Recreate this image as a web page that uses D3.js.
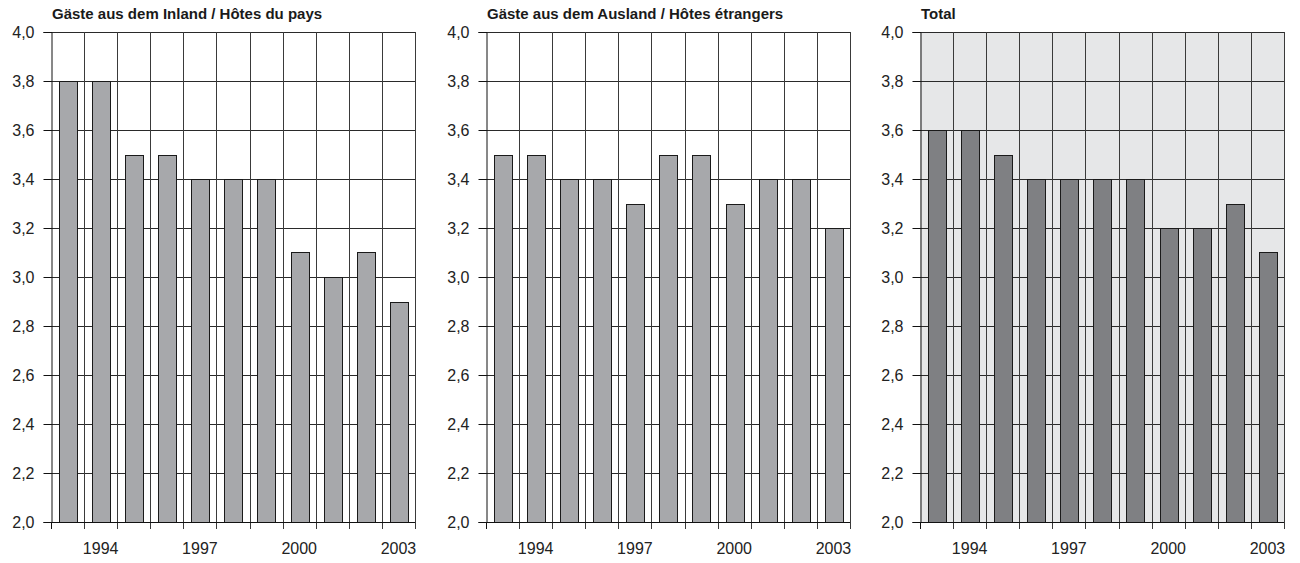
<!DOCTYPE html>
<html>
<head>
<meta charset="utf-8">
<script src="https://cdn.jsdelivr.net/npm/d3@7"></script>
<style>
  body { margin: 0; background: #fff; }
  svg { font-family: "Liberation Sans", Arial, sans-serif; }
</style>
</head>
<body>
<svg id="chart" width="1300" height="563"></svg>
<script>
// data
var years = ["1993", "1994", "1995", "1996", "1997", "1998", "1999", "2000", "2001", "2002", "2003"];
var yearLabels = ["1994", "1997", "2000", "2003"];
var yTicks = [2.0, 2.2, 2.4, 2.6, 2.8, 3.0, 3.2, 3.4, 3.6, 3.8, 4.0];
var inland = [3.8, 3.8, 3.5, 3.5, 3.4, 3.4, 3.4, 3.1, 3.0, 3.1, 2.9];
var ausland = [3.5, 3.5, 3.4, 3.4, 3.3, 3.5, 3.5, 3.3, 3.4, 3.4, 3.2];
var total = [3.6, 3.6, 3.5, 3.4, 3.4, 3.4, 3.4, 3.2, 3.2, 3.3, 3.1];
var titles = ["Gäste aus dem Inland / Hôtes du pays", "Gäste aus dem Ausland / Hôtes étrangers", "Total"];

var svg = d3.select("#chart");
var plotW = 364, plotH = 490, plotTop = 32;
var fmt = function(d) { return d3.format(".1f")(d).replace(".", ","); };

function panel(left, title, values, bg, barFill) {
  var g = svg.append("g").attr("transform", "translate(" + left + "," + plotTop + ")");

  var x = d3.scaleBand().domain(years).range([0, plotW]).padding(0);
  var y = d3.scaleLinear().domain([2, 4]).range([plotH, 0]);
  var bw = x.bandwidth();

  g.append("rect")
    .attr("width", plotW).attr("height", plotH)
    .attr("fill", bg);

  // horizontal grid
  g.append("g").selectAll("line")
    .data(yTicks)
    .enter().append("line")
      .attr("x1", 0).attr("x2", plotW)
      .attr("y1", function(d) { return Math.round(y(d)) + 0.5; })
      .attr("y2", function(d) { return Math.round(y(d)) + 0.5; })
      .attr("stroke", "#2a2a2a").attr("stroke-width", 1);

  // vertical grid at band edges
  g.append("g").selectAll("line")
    .data(years.slice(1).concat(["end"]))
    .enter().append("line")
      .attr("x1", function(d, i) { return Math.round(bw * (i + 1)) + 0.5; })
      .attr("x2", function(d, i) { return Math.round(bw * (i + 1)) + 0.5; })
      .attr("y1", 0).attr("y2", plotH + 7)
      .attr("stroke", "#3a3a3a").attr("stroke-width", 1);

  // bars
  g.append("g").selectAll("rect")
    .data(values)
    .enter().append("rect")
      .attr("x", function(d, i) { return Math.round(x(years[i]) + bw * 0.24) + 0.5; })
      .attr("y", function(d) { return Math.round(y(d)) + 0.5; })
      .attr("width", Math.round(bw * 0.54))
      .attr("height", function(d) { return Math.round(y(2)) - Math.round(y(d)); })
      .attr("fill", barFill)
      .attr("stroke", "#1a1a1a").attr("stroke-width", 1);

  // left axis
  var ya = g.append("g")
    .attr("transform", "translate(0.5,0)")
    .call(d3.axisLeft(y).tickValues(yTicks).tickFormat(fmt).tickSize(8).tickPadding(9));
  ya.select(".domain").attr("stroke", "#111");
  ya.selectAll(".tick line").attr("stroke", "#111");
  ya.selectAll(".tick text").attr("font-size", "16px").attr("fill", "#222")
    .attr("font-family", "Liberation Sans, Arial, sans-serif");

  // bottom line and first tick
  g.append("line")
    .attr("x1", 0).attr("x2", plotW)
    .attr("y1", plotH + 0.5).attr("y2", plotH + 0.5)
    .attr("stroke", "#111");
  g.append("line")
    .attr("x1", 0.5).attr("x2", 0.5)
    .attr("y1", plotH).attr("y2", plotH + 7)
    .attr("stroke", "#111");

  // year labels
  g.append("g").selectAll("text")
    .data(yearLabels)
    .enter().append("text")
      .attr("x", function(d) { return x(d) + bw / 2; })
      .attr("y", plotH + 32)
      .attr("text-anchor", "middle")
      .attr("font-size", "16px")
      .attr("fill", "#222")
      .text(function(d) { return d; });

  g.append("text")
    .attr("x", 1).attr("y", -13)
    .attr("font-size", "15px")
    .attr("font-weight", "bold")
    .attr("fill", "#1a1a1a")
    .text(title);
}

panel(51, titles[0], inland, "#ffffff", "#a7a8ab");
panel(486, titles[1], ausland, "#ffffff", "#a7a8ab");
panel(920, titles[2], total, "#e6e7e8", "#7f8083");
</script>
</body>
</html>
